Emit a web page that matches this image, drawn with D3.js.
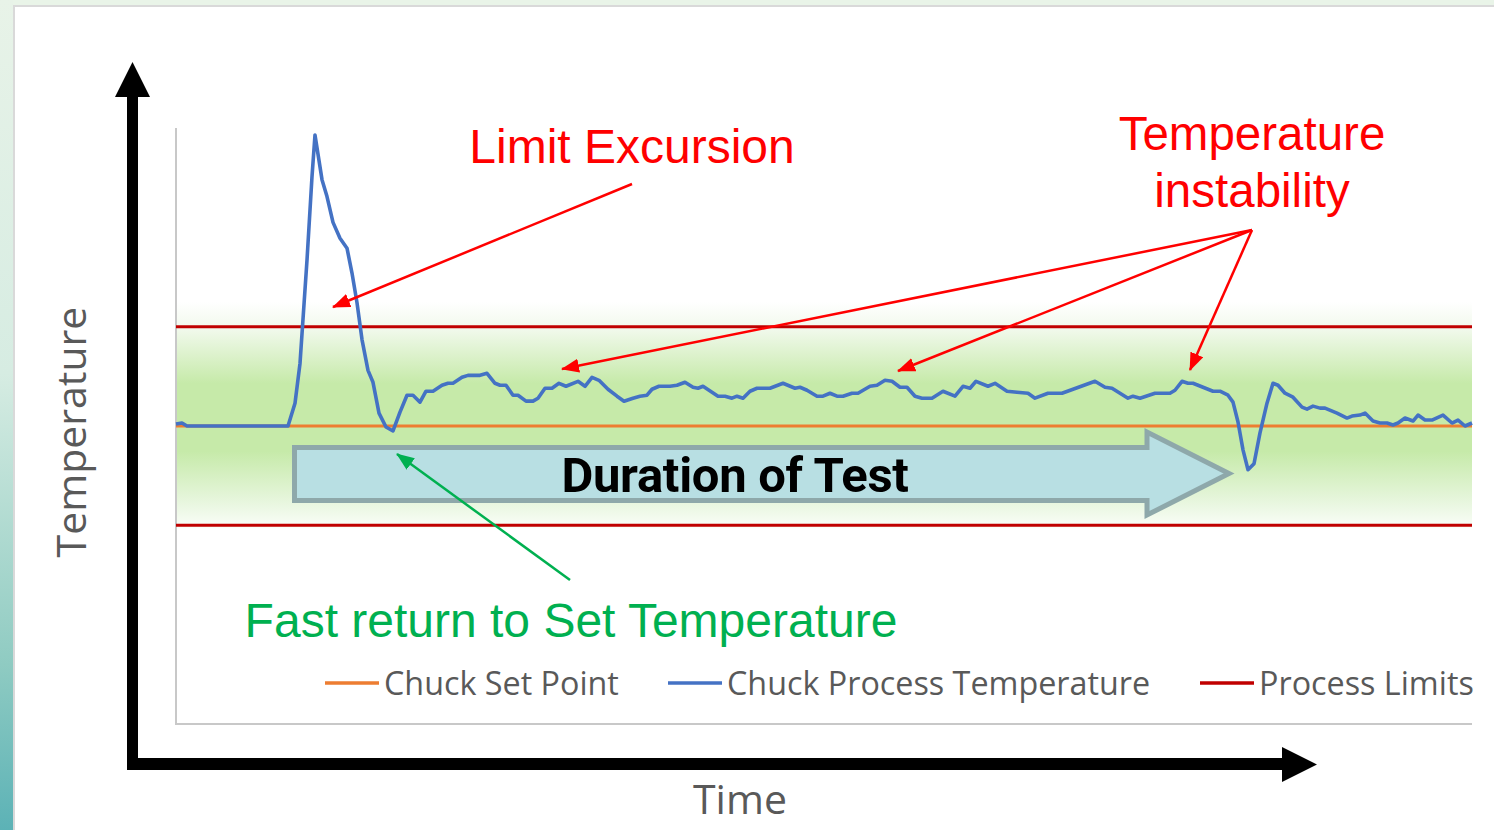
<!DOCTYPE html>
<html>
<head>
<meta charset="utf-8">
<script src="https://cdn.jsdelivr.net/npm/d3@7"></script>
<style>
  body { margin: 0; background: #fff; }
  svg { display: block; }
</style>
</head>
<body>
<div id="chart"></div>
<script>
// time in seconds, chuck temperature in degC
const timeSec = [0, 6, 11, 112, 119, 124, 131, 136, 139, 146, 151, 157, 164, 171, 176, 181, 186, 192, 197, 203,
  210, 217, 224, 231, 237, 244, 250, 257, 266, 272, 277, 286, 292, 304, 311, 319, 324, 330, 337, 342,
  350, 357, 362, 369, 376, 383, 390, 402, 409, 416, 423, 432, 441, 448, 457, 464, 471, 476, 483, 494,
  501, 509, 517, 522, 527, 536, 542, 549, 556, 561, 567, 574, 581, 594, 607, 619, 624, 631, 641, 647,
  654, 661, 667, 676, 682, 694, 701, 709, 716, 724, 731, 739, 746, 756, 767, 779, 787, 794, 800, 812,
  819, 831, 841, 852, 859, 872, 886, 919, 929, 936, 952, 957, 964, 979, 994, 999, 1006, 1012, 1017, 1027,
  1037, 1044, 1052, 1057, 1062, 1067, 1072, 1078, 1084, 1091, 1097, 1102, 1109, 1117, 1126, 1131, 1137, 1144, 1149, 1161,
  1171, 1176, 1184, 1189, 1197, 1204, 1211, 1217, 1222, 1229, 1237, 1242, 1249, 1256, 1267, 1276, 1282, 1289, 1296];
const chuckTemp = [25.2, 25.3, 25.0, 25.0, 27.3, 31.3, 41.7, 50.1, 54.3, 49.8, 48.1, 45.5, 43.9, 42.9, 40.4, 37.4, 33.7, 30.6, 29.4, 26.3,
  24.9, 24.5, 26.4, 28.1, 28.1, 27.4, 28.5, 28.5, 29.1, 29.3, 29.3, 29.9, 30.1, 30.1, 30.3, 29.3, 29.1, 29.1, 28.1, 28.1,
  27.5, 27.5, 27.8, 28.8, 28.8, 29.3, 29.0, 29.5, 29.0, 29.9, 29.6, 28.7, 28.0, 27.5, 27.8, 28.0, 28.1, 28.7, 29.0, 29.0,
  29.1, 29.4, 28.9, 28.8, 29.0, 28.4, 28.0, 28.0, 27.8, 28.0, 27.8, 28.5, 28.8, 28.8, 29.3, 28.8, 28.9, 28.6, 28.0, 28.0,
  28.3, 28.0, 28.0, 28.3, 28.3, 29.0, 29.1, 29.6, 29.5, 28.9, 28.9, 28.0, 27.8, 27.8, 28.5, 28.0, 29.0, 28.8, 29.5, 29.0,
  29.3, 28.5, 28.4, 28.3, 27.8, 28.3, 28.3, 29.5, 28.9, 28.8, 27.8, 28.0, 27.8, 28.3, 28.3, 28.6, 29.5, 29.3, 29.3, 28.9,
  28.5, 28.5, 28.1, 27.4, 25.4, 22.6, 20.6, 21.2, 24.3, 27.3, 29.3, 29.1, 28.3, 27.9, 26.9, 26.7, 27.0, 26.8, 26.8, 26.3,
  25.8, 26.0, 26.1, 26.3, 25.5, 25.3, 25.3, 25.1, 25.3, 25.8, 25.5, 26.1, 25.6, 25.6, 26.1, 25.3, 25.6, 25.0, 25.3];
const setPoint = 25;
const processLimits = [35, 15];
const legendNames = ['Chuck Set Point', 'Chuck Process Temperature', 'Process Limits'];
const legendColors = ['#ed7d31', '#4472c4', '#c00000'];

const W = 1494, H = 830;
const svg = d3.select('#chart').append('svg').attr('width', W).attr('height', H);
const defs = svg.append('defs');

// slide background
const sideGrad = defs.append('linearGradient').attr('id', 'side').attr('x1', 0).attr('y1', 0).attr('x2', 0).attr('y2', 1);
sideGrad.append('stop').attr('offset', '0%').attr('stop-color', '#e8f3e8');
sideGrad.append('stop').attr('offset', '45%').attr('stop-color', '#d6ece2');
sideGrad.append('stop').attr('offset', '80%').attr('stop-color', '#8fcbc2');
sideGrad.append('stop').attr('offset', '100%').attr('stop-color', '#5cb2b6');
svg.append('rect').attr('width', W).attr('height', H).style('fill', '#e9f4e8');
svg.append('rect').attr('x', 0).attr('y', 0).attr('width', 13).attr('height', H).style('fill', 'url(#side)');
svg.append('rect').attr('x', 14).attr('y', 6).attr('width', W).attr('height', H)
  .style('fill', '#fff').style('stroke', '#d9d9d9').style('stroke-width', 2);

// scales
const x = d3.scaleLinear().domain([0, 1296]).range([176, 1472]);
const y = d3.scaleLinear().domain([-5, 55]).range([724, 128]);

// green tolerance band
const band = defs.append('linearGradient').attr('id', 'band').attr('x1', 0).attr('y1', 0).attr('x2', 0).attr('y2', 1);
band.append('stop').attr('offset', '0%').attr('stop-color', '#ffffff');
band.append('stop').attr('offset', '12%').attr('stop-color', '#f1f9ec');
band.append('stop').attr('offset', '36%').attr('stop-color', '#c6eaa9');
band.append('stop').attr('offset', '66%').attr('stop-color', '#c6eaa9');
band.append('stop').attr('offset', '90%').attr('stop-color', '#eaf7e2');
band.append('stop').attr('offset', '100%').attr('stop-color', '#fbfef9');
svg.append('rect')
  .attr('x', x(0)).attr('y', y(37.5))
  .attr('width', x(1296) - x(0)).attr('height', y(14.7) - y(37.5))
  .style('fill', 'url(#band)');

// plot frame (grey)
svg.append('path')
  .attr('d', `M${x(0)},${y(55)} V${y(-5)} H${x(1296)}`)
  .style('fill', 'none').style('stroke', '#c8c8c8').style('stroke-width', 2);

// limits
svg.selectAll('line.limit')
  .data(processLimits)
  .join('line')
  .attr('class', 'limit')
  .attr('x1', x(0)).attr('x2', x(1296))
  .attr('y1', d => y(d)).attr('y2', d => y(d))
  .style('stroke', legendColors[2]).style('stroke-width', 3);

svg.append('line')
  .attr('x1', x(0)).attr('x2', x(1296))
  .attr('y1', y(setPoint)).attr('y2', y(setPoint))
  .style('stroke', legendColors[0]).style('stroke-width', 3);

const line = d3.line()
  .x((d, i) => x(timeSec[i]))
  .y(d => y(d));

svg.append('path')
  .datum(chuckTemp)
  .attr('d', line)
  .style('fill', 'none')
  .style('stroke', legendColors[1])
  .style('stroke-width', 3.6)
  .style('stroke-linejoin', 'round');

// black axis arrows
svg.append('path')
  .attr('d', 'M127,769 V97 H115 L132.5,62 L150,97 H138 V758 H1282 V747 L1317,764.5 L1282,782 V770 H127 Z')
  .style('fill', '#000');

// axis titles
svg.append('text')
  .attr('transform', 'translate(86,432) rotate(-90)')
  .attr('text-anchor', 'middle')
  .style('font-family', '"Open Sans", sans-serif')
  .style('font-size', '41px')
  .style('fill', '#595959')
  .text('Temperature');

svg.append('text')
  .attr('x', 740).attr('y', 814)
  .attr('text-anchor', 'middle')
  .style('font-family', '"Open Sans", sans-serif')
  .style('font-size', '41px')
  .style('fill', '#595959')
  .text('Time');

// legend
const legX = [325, 668, 1200];
const leg = svg.selectAll('g.leg')
  .data(legendNames)
  .join('g')
  .attr('class', 'leg')
  .attr('transform', (d, i) => `translate(${legX[i]},683)`);
leg.append('line')
  .attr('x1', 0).attr('x2', 54)
  .style('stroke', (d, i) => legendColors[i])
  .style('stroke-width', 3.5);
leg.append('text')
  .attr('x', 59).attr('y', 12)
  .style('font-family', '"Open Sans", sans-serif')
  .style('font-size', '32.3px')
  .style('fill', '#595959')
  .text(d => d);

// duration block arrow
svg.append('path')
  .attr('d', 'M294.5,447.5 H1147 V432 L1229,473.5 L1147,515 V500.5 H294.5 Z')
  .style('fill', '#b8dfe3')
  .style('stroke', '#8ea8aa')
  .style('stroke-width', 5)
  .style('stroke-linejoin', 'miter');

svg.append('text')
  .attr('x', 735).attr('y', 492)
  .attr('text-anchor', 'middle')
  .style('font-family', 'Roboto, sans-serif')
  .style('font-weight', 700)
  .style('font-size', '49px')
  .style('letter-spacing', '-0.3px')
  .style('fill', '#000')
  .text('Duration of Test');

// annotation arrows
function marker(id, color) {
  defs.append('marker')
    .attr('id', id)
    .attr('markerUnits', 'userSpaceOnUse')
    .attr('viewBox', '0 0 18 14')
    .attr('refX', 17).attr('refY', 7)
    .attr('markerWidth', 18).attr('markerHeight', 14)
    .attr('orient', 'auto')
    .append('path').attr('d', 'M0,0 L18,7 L0,14 Z').style('fill', color);
}
marker('redHead', '#ff0000');
marker('greenHead', '#00b050');

const redArrows = [
  [632, 184, 333, 307],
  [1252, 230, 562, 369],
  [1252, 230, 898, 371],
  [1252, 230, 1190, 370]
];
svg.selectAll('line.ann')
  .data(redArrows)
  .join('line')
  .attr('class', 'ann')
  .attr('x1', d => d[0]).attr('y1', d => d[1])
  .attr('x2', d => d[2]).attr('y2', d => d[3])
  .style('stroke', '#ff0000').style('stroke-width', 2.5)
  .attr('marker-end', 'url(#redHead)');

svg.append('line')
  .attr('x1', 570).attr('y1', 580).attr('x2', 397).attr('y2', 454)
  .style('stroke', '#00b050').style('stroke-width', 2.5)
  .attr('marker-end', 'url(#greenHead)');

// annotation texts
const annFont = '"Liberation Sans", Arial, sans-serif';
svg.append('text')
  .attr('x', 632).attr('y', 163)
  .attr('text-anchor', 'middle')
  .style('font-family', annFont).style('font-size', '48px')
  .style('fill', '#ff0000')
  .text('Limit Excursion');

const instab = svg.append('text')
  .attr('text-anchor', 'middle')
  .style('font-family', annFont).style('font-size', '47.5px')
  .style('fill', '#ff0000');
instab.append('tspan').attr('x', 1252).attr('y', 150).text('Temperature');
instab.append('tspan').attr('x', 1252).attr('y', 207).text('instability');

svg.append('text')
  .attr('x', 571).attr('y', 637)
  .attr('text-anchor', 'middle')
  .style('font-family', annFont).style('font-size', '48px')
  .style('fill', '#00b050')
  .text('Fast return to Set Temperature');
</script>
</body>
</html>
